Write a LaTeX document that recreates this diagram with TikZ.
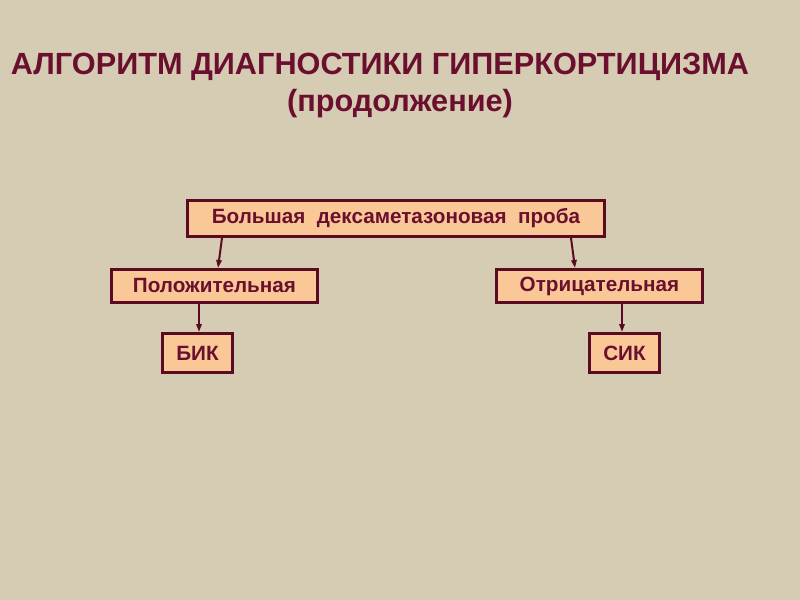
\documentclass[tikz,border=0pt]{standalone}
\usepackage{fontspec}
\setmainfont{Liberation Sans}
\usetikzlibrary{calc,arrows.meta}
\definecolor{bg}{HTML}{D6CBB3}
\definecolor{maroon}{HTML}{6A0F2E}
\definecolor{boxfill}{HTML}{FAC896}
\definecolor{edge}{HTML}{5A0A22}
\tikzset{
 bx/.style={draw=edge,line width=2.2pt,fill=boxfill,inner sep=0pt,anchor=north west,font=\bfseries\fontsize{15.5}{18}\selectfont,text=maroon},
 arr/.style={draw=edge,line width=1.5pt,-{Triangle[length=6pt,width=4pt]}}
}
\begin{document}
\begin{tikzpicture}[x=0.75pt,y=-0.75pt]
\fill[bg] (0,0) rectangle (800,600);
\useasboundingbox (0,0) rectangle (800,600);
\node[text=maroon,font=\bfseries\fontsize{23}{27}\selectfont] (t1) at (380,67) {АЛГОРИТМ ДИАГНОСТИКИ ГИПЕРКОРТИЦИЗМА};
\node[text=maroon,font=\bfseries\fontsize{23}{27}\selectfont] (t2) at (400,104) {(продолжение)};
\node[bx,minimum width=417*0.75pt,minimum height=36*0.75pt] (top) at (186,199) {Большая\ \ дексаметазоновая\ \ проба};
\node[bx,minimum width=206*0.75pt,minimum height=33*0.75pt] (pos) at (110,268) {Положительная};
\node[bx,minimum width=206*0.75pt,minimum height=33*0.75pt] (neg) at (495,268) {Отрицательная};
\node[bx,minimum width=70*0.75pt,minimum height=39*0.75pt] (bik) at (161,332) {БИК};
\node[bx,minimum width=70*0.75pt,minimum height=39*0.75pt] (sik) at (588,332) {СИК};
\draw[arr] ($(top.south west)+(36,0)$) -- ($(pos.north west)+(108,0)$);
\draw[arr] ($(top.south west)+(385,0)$) -- ($(neg.north west)+(80,0)$);
\draw[arr] ($(pos.south west)+(89,0)$) -- ($(bik.north west)+(38,0)$);
\draw[arr] ($(neg.south west)+(127,0)$) -- ($(sik.north west)+(34,0)$);
\end{tikzpicture}
\end{document}
